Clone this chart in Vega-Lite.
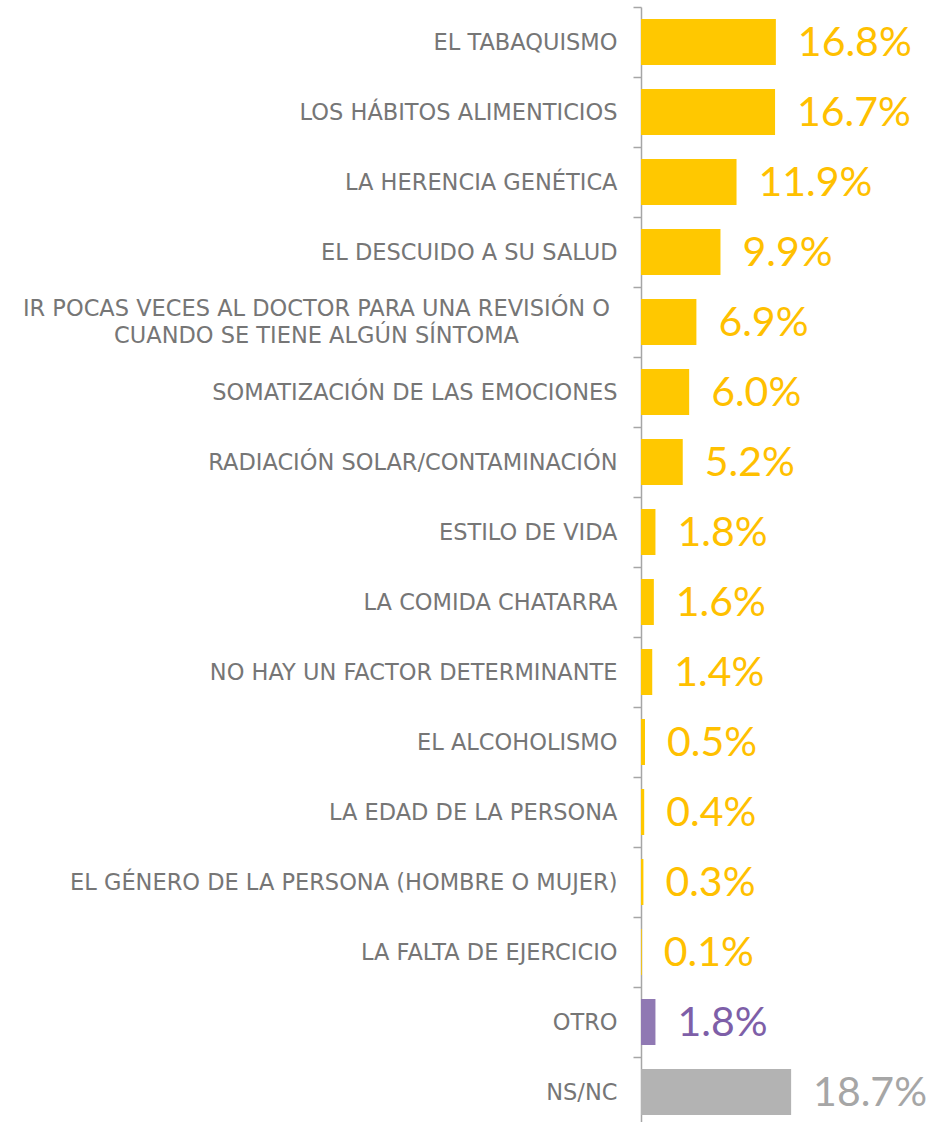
{
  "$schema": "https://vega.github.io/schema/vega-lite/v6.json",
  "autosize": {"type": "none"},
  "padding": {"left": 641, "top": 7, "right": 0, "bottom": 0},
  "width": 289,
  "height": 1120,
  "background": "white",
  "config": {"view": {"stroke": null}, "font": "Lato"},
  "data": {
    "values": [
      {"factor": "EL TABAQUISMO", "value": 0.168, "group": "main"},
      {"factor": "LOS HÁBITOS ALIMENTICIOS", "value": 0.167, "group": "main"},
      {"factor": "LA HERENCIA GENÉTICA", "value": 0.119, "group": "main"},
      {"factor": "EL DESCUIDO A SU SALUD", "value": 0.099, "group": "main"},
      {"factor": "IR POCAS VECES AL DOCTOR PARA UNA REVISIÓN O CUANDO SE TIENE ALGÚN SÍNTOMA", "value": 0.069, "group": "main"},
      {"factor": "SOMATIZACIÓN DE LAS EMOCIONES", "value": 0.060, "group": "main"},
      {"factor": "RADIACIÓN SOLAR/CONTAMINACIÓN", "value": 0.052, "group": "main"},
      {"factor": "ESTILO DE VIDA", "value": 0.018, "group": "main"},
      {"factor": "LA COMIDA CHATARRA", "value": 0.016, "group": "main"},
      {"factor": "NO HAY UN FACTOR DETERMINANTE", "value": 0.014, "group": "main"},
      {"factor": "EL ALCOHOLISMO", "value": 0.005, "group": "main"},
      {"factor": "LA EDAD DE LA PERSONA", "value": 0.004, "group": "main"},
      {"factor": "EL GÉNERO DE LA PERSONA (HOMBRE O MUJER)", "value": 0.003, "group": "main"},
      {"factor": "LA FALTA DE EJERCICIO", "value": 0.001, "group": "main"},
      {"factor": "OTRO", "value": 0.018, "group": "otro"},
      {"factor": "NS/NC", "value": 0.187, "group": "nsnc"}
    ]
  },
  "encoding": {
    "y": {
      "field": "factor",
      "type": "nominal",
      "sort": null,
      "scale": {"paddingInner": 0.343, "paddingOuter": 0.1715},
      "axis": {
        "title": null,
        "orient": "left",
        "domainColor": "#A6A6A6",
        "domainWidth": 1.5,
        "tickColor": "#A6A6A6",
        "tickWidth": 1.5,
        "tickSize": 8,
        "bandPosition": -0.26,
        "labelFont": "DejaVu Sans",
        "labelFontSize": 22.5,
        "labelColor": "#767676",
        "labelLimit": 700,
        "labelLineHeight": 27,
        "labelOffset": {"condition": {"test": "indexof(datum.value, 'IR POCAS') == 0", "value": -13}, "value": 1},
        "labelPadding": {"condition": {"test": "indexof(datum.value, 'IR POCAS') == 0", "value": 317}, "value": 16},
        "labelAlign": {"condition": {"test": "indexof(datum.value, 'IR POCAS') == 0", "value": "center"}, "value": "right"},
        "labelExpr": "indexof(datum.value, 'IR POCAS') == 0 ? ['IR POCAS VECES AL DOCTOR PARA UNA REVISIÓN O', 'CUANDO SE TIENE ALGÚN SÍNTOMA'] : datum.value"
      }
    },
    "x": {
      "field": "value",
      "type": "quantitative",
      "scale": {"domain": [0, 0.36]},
      "axis": null
    }
  },
  "layer": [
    {
      "mark": {"type": "bar"},
      "encoding": {
        "color": {
          "field": "group",
          "type": "nominal",
          "scale": {"domain": ["main", "otro", "nsnc"], "range": ["#FFC800", "#9079B3", "#B3B3B3"]},
          "legend": null
        }
      }
    },
    {
      "mark": {"type": "text", "align": "left", "baseline": "middle", "dx": 22, "dy": 2, "fontSize": 41, "font": "Lato"},
      "encoding": {
        "text": {"field": "value", "type": "quantitative", "format": ".1%"},
        "color": {
          "field": "group",
          "type": "nominal",
          "scale": {"domain": ["main", "otro", "nsnc"], "range": ["#FFC000", "#7E5FA8", "#A6A6A6"]},
          "legend": null
        }
      }
    }
  ],
  "resolve": {"scale": {"color": "independent"}}
}
